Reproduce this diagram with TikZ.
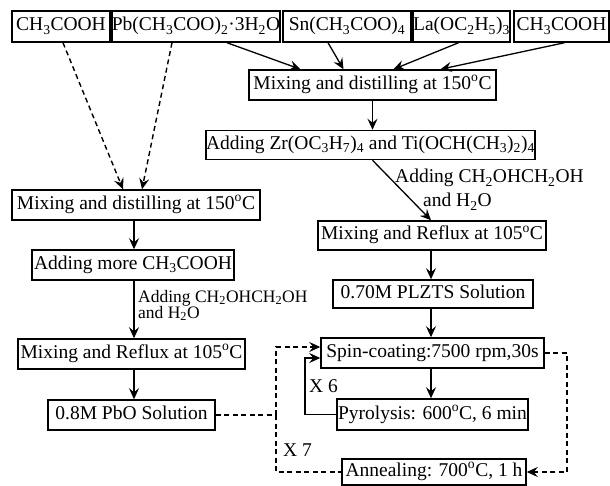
\documentclass[tikz,border=0pt]{standalone}
\usepackage{fontspec}
\setmainfont{Liberation Serif}
\usetikzlibrary{arrows.meta,calc}
\newcommand{\dgc}{\textsuperscript{o}C}
\newcommand{\sbs}[1]{\textsubscript{#1}}
\begin{document}
\begin{tikzpicture}[x=1pt,y=-1pt,
  box/.style={draw,line width=1.5pt,inner sep=0pt,minimum height=30pt,
    text height=13.5pt,text depth=4.5pt,font=\fontsize{19.5}{22}\selectfont},
  tip/.style={-{Stealth[length=11pt,width=10pt,inset=4pt]}},
  arr/.style={line width=1.3pt,tip},
  dsh/.style={line width=1.4pt,dash pattern=on 5pt off 3.5pt},
  lbl/.style={inner sep=0pt,anchor=base west,font=\fontsize{19.5}{22}\selectfont},
  lbls/.style={inner sep=0pt,anchor=base west,font=\fontsize{17.5}{20}\selectfont}]
\useasboundingbox (0,0) rectangle (610,486);
% top row
\node[box,minimum width=98pt,minimum height=31pt] (t1) at (61,26.5) {CH\sbs{3}COOH};
\node[box,minimum width=166pt,minimum height=31pt] (t2) at (196,26.5) {Pb(CH\sbs{3}COO)\sbs{2}·3H\sbs{2}O};
\node[box,minimum width=128pt,minimum height=31pt] (t3) at (347,26.5) {Sn(CH\sbs{3}COO)\sbs{4}};
\node[box,minimum width=97pt,minimum height=31pt] (t4) at (461.5,26.5) {La(OC\sbs{2}H\sbs{5})\sbs{3}};
\node[box,minimum width=95pt,minimum height=31pt] (t5) at (561.5,26.5) {CH\sbs{3}COOH};
% right column
\node[box,minimum width=247pt] (mixR) at (372.5,85) {Mixing and distilling at 150\dgc};
\node[box,minimum width=327pt,minimum height=29pt] (addZr) at (370.5,145) {Adding Zr(OC\sbs{3}H\sbs{7})\sbs{4} and Ti(OCH(CH\sbs{3})\sbs{2})\sbs{4}};
\node[box,minimum width=228pt,minimum height=29pt] (refluxR) at (432,235.5) {Mixing and Reflux at 105\dgc};
\node[box,minimum width=200pt,minimum height=28pt] (plzts) at (433,294) {0.70M PLZTS Solution};
\node[box,minimum width=223pt] (spin) at (432.5,353) {Spin-coating:7500 rpm,30s};
\node[box,minimum width=191pt,minimum height=31pt] (pyro) at (432.5,414.5) {Pyrolysis: 600\dgc, 6 min};
\node[box,minimum width=184pt,minimum height=26pt] (anneal) at (434,472) {Annealing: 700\dgc, 1 h};
% left column
\node[box,minimum width=248pt] (mixL) at (136,205) {Mixing and distilling at 150\dgc};
\node[box,minimum width=202pt] (addMore) at (133,265) {Adding more CH\sbs{3}COOH};
\node[box,minimum width=227pt] (refluxL) at (131.5,354) {Mixing and Reflux at 105\dgc};
\node[box,minimum width=167pt] (pbo) at (131.5,415) {0.8M PbO Solution};
% labels
\node[lbl] (labR1) at (395,183) {Adding CH\sbs{2}OHCH\sbs{2}OH};
\node[lbl] (labR2) at (423,207) {and H\sbs{2}O};
\node[lbls] (labL1) at (138,302) {Adding CH\sbs{2}OHCH\sbs{2}OH};
\node[lbls] (labL2) at (138,318) {and H\sbs{2}O};
\node[lbl] (x6) at (309,392) {X 6};
\node[lbl] (x7) at (283,456) {X 7};
% coordinates
\coordinate (xL) at (134,0);
\coordinate (xR) at (431,0);
\coordinate (jx) at (276,415);
\coordinate (rx) at (567,0);
\coordinate (fx) at (305,0);
% arrows into right mixing
\draw[arr] ([xshift=31pt]t2.south) -- ([xshift=-72pt]mixR.north);
\draw[arr] ([xshift=-19pt]t3.south) -- ([xshift=-29pt]mixR.north);
\draw[arr] ([xshift=-3pt]t4.south) -- ([xshift=21pt]mixR.north);
\draw[arr] ([xshift=3pt]t5.south) -- ([xshift=68pt]mixR.north);
% dashed into left mixing
\draw[dsh,tip] ([xshift=2pt]t1.south) -- ([xshift=-13pt]mixL.north);
\draw[dsh,tip] ([xshift=-24pt]t2.south) -- ([xshift=6pt]mixL.north);
% right column flow
\draw[arr] (mixR.south) -- (mixR.south |- addZr.north);
\draw[arr] (addZr.south -| mixR.south) -- (refluxR.north -| xR);
\draw[arr] (refluxR.south -| xR) -- (plzts.north -| xR);
\draw[arr] (plzts.south -| xR) -- (spin.north -| xR);
\draw[arr] (spin.south -| xR) -- (pyro.north -| xR);
% left column flow
\draw[arr] (mixL.south -| xL) -- (addMore.north -| xL);
\draw[arr] (addMore.south -| xL) -- (refluxL.north -| xL);
\draw[arr] (refluxL.south -| xL) -- (pbo.north -| xL);
% feedback loop X6
\draw[arr] (pyro.west) -- (pyro.west -| fx) |- ([yshift=-5pt]spin.west);
% dashed loops
\draw[dsh] (pbo.east) -- (jx);
\draw[dsh,tip] (jx) |- ([yshift=6pt]spin.west);
\draw[dsh] (jx) |- (anneal.west);
\draw[dsh,tip] (spin.east) -- (spin.east -| rx) |- (anneal.east);
\end{tikzpicture}
\end{document}
